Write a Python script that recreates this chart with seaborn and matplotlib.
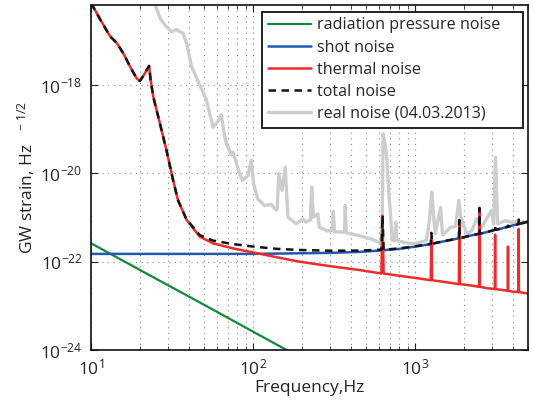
import numpy as np
import matplotlib
matplotlib.use("Agg")
import matplotlib.pyplot as plt
from matplotlib.ticker import NullLocator, LogLocator
import seaborn as sns

# thermal noise (with violin-mode spikes)
thermal_freq = [10, 11.4, 13.1, 14.4, 15.8, 17.4, 19.1, 20.0, 21.2, 22.8, 23.3, 24.2, 26.3,
                29.2, 32.1, 34.4, 38.8, 46.8, 56.6, 75, 100, 140, 193, 300, 450, 600,
                620, 630, 640, 800, 1000, 1250, 1262, 1275, 1500, 1865, 1877, 1890, 2200,
                2488, 2500, 2512, 2800, 3110, 3123, 3136, 3400, 3738, 3750, 3762, 4000,
                4358, 4370, 4382, 5000]
thermal_h = [7.1e-17, 3.0e-17, 1.26e-17, 8.9e-18, 5.2e-18, 2.6e-18, 1.41e-18, 1.23e-18, 1.7e-18,
             2.7e-18, 1.29e-18, 5.4e-19, 1.58e-19, 3.3e-20, 6.9e-21, 2.45e-21, 8.9e-22, 3.7e-22,
             2.6e-22, 2.0e-22, 1.62e-22, 1.26e-22, 1.0e-22, 7.9e-23, 6.5e-23, 5.5e-23,
             5.4e-23, 1.1e-21, 5.4e-23, 4.8e-23, 4.3e-23, 3.8e-23, 3.7e-22, 3.8e-23, 3.5e-23,
             3.1e-23, 8.1e-22, 3.1e-23, 2.9e-23, 2.7e-23, 1.6e-21, 2.7e-23, 2.5e-23,
             2.4e-23, 4.1e-22, 2.4e-23, 2.3e-23, 2.2e-23, 2.2e-22, 2.2e-23, 2.1e-23,
             2.05e-23, 5.5e-22, 2.05e-23, 1.9e-23]
# total noise on the same frequencies
total_h = [7.1e-17, 3.0e-17, 1.26e-17, 8.9e-18, 5.2e-18, 2.6e-18, 1.41e-18, 1.23e-18, 1.7e-18,
           2.7e-18, 1.29e-18, 5.4e-19, 1.58e-19, 3.3e-20, 6.9e-21, 2.45e-21, 9.1e-22, 4.0e-22,
           3.0e-22, 2.5e-22, 2.2e-22, 1.95e-22, 1.84e-22, 1.77e-22, 1.78e-22, 1.86e-22,
           1.86e-22, 1.1e-21, 1.86e-22, 2.0e-22, 2.23e-22, 2.53e-22, 4.5e-22, 2.55e-22, 2.9e-22,
           3.4e-22, 8.8e-22, 3.4e-22, 3.9e-22, 4.28e-22, 1.65e-21, 4.28e-22, 4.7e-22,
           5.25e-22, 6.6e-22, 5.25e-22, 5.6e-22, 6.17e-22, 6.55e-22, 6.17e-22, 6.6e-22,
           7.1e-22, 9.0e-22, 7.1e-22, 8.1e-22]

shot_freq = [10, 100, 200, 300, 450, 600, 800, 1000, 1250, 1500, 1900, 2200, 2500,
             2800, 3100, 3400, 3750, 4000, 4400, 5000]
shot_h = [1.5e-22, 1.5e-22, 1.55e-22, 1.58e-22, 1.66e-22, 1.78e-22, 1.95e-22, 2.19e-22,
          2.5e-22, 2.88e-22, 3.41e-22, 3.9e-22, 4.27e-22, 4.7e-22, 5.25e-22, 5.6e-22,
          6.17e-22, 6.6e-22, 7.1e-22, 8.1e-22]

rad_freq = [10, 20, 50, 100, 200, 500]
rad_h = [2.6e-22, 6.5e-23, 1.05e-23, 2.6e-24, 6.5e-25, 1.05e-25]

# measured noise 04.03.2013
real_freq = [24.0, 24.8, 26.6, 28.5, 31.4, 33.7, 37.0, 38.8, 41.7, 46.9, 51.5, 56.6, 60.7,
             63.7, 66.8, 68.4, 73.5, 75.2, 78.9, 82.6, 85.9, 92.9, 97.5, 100.7, 107, 118,
             129, 139, 141, 144, 151, 158, 164, 185, 203, 212, 226, 230, 236, 251, 256,
             288, 309, 313, 318, 340, 367, 371, 376, 452, 546, 615, 627, 635, 653, 668,
             692, 708, 724, 752, 760, 769, 918, 1009, 1175, 1230, 1268, 1294, 1334, 1439,
             1479, 1660, 1778, 1866, 1914, 2089, 2239, 2399, 2570, 2979, 3055, 3141, 3236,
             3614, 3972, 4365, 4797, 5248]
real_h = [7.9e-17, 6.6e-17, 3.3e-17, 2.3e-17, 1.6e-17, 1.8e-17, 1.45e-17, 8.9e-18, 2.6e-18,
          1.0e-18, 4.6e-19, 1.1e-19, 1.5e-19, 2.1e-19, 6.8e-20, 4.7e-20, 2.6e-20, 3.0e-20,
          1.7e-20, 9.8e-21, 6.9e-21, 8.9e-21, 2.0e-20, 5.9e-21, 2.6e-21, 1.86e-21, 2.0e-21,
          1.45e-21, 1.6e-21, 9.8e-21, 4.1e-21, 1.38e-20, 1.02e-21, 7.2e-22, 9.3e-22, 7.8e-22,
          8.9e-22, 4.9e-21, 1.02e-21, 1.2e-21, 6.0e-22, 5.0e-22, 5.0e-22, 1.38e-21, 4.8e-22,
          4.7e-22, 4.7e-22, 1.86e-21, 4.5e-22, 3.9e-22, 3.2e-22, 2.6e-22, 7.9e-22, 7.9e-20,
          4.5e-20, 2.5e-20, 2.9e-21, 1.02e-21, 3.0e-22, 3.0e-22, 7.8e-22, 3.0e-22, 2.6e-22,
          2.6e-22, 3.0e-22, 8.9e-22, 3.8e-21, 1.45e-21, 4.3e-22, 1.7e-21, 4.0e-22, 6.0e-22,
          6.3e-22, 2.45e-21, 1.02e-21, 4.3e-22, 5.0e-22, 9.3e-22, 6.0e-22, 1.45e-21, 7.1e-22,
          2.3e-20, 7.2e-22, 8.5e-22, 7.8e-22, 8.3e-22, 7.8e-22, 8.3e-22]

sns.set_style("ticks")
plt.rcParams['font.family'] = ['Open Sans', 'DejaVu Sans']
plt.rcParams['mathtext.default'] = 'regular'

fig = plt.figure(figsize=(5.33, 4.07), dpi=100)
ax = fig.add_axes([0.171, 0.140, 0.820, 0.848])
ax.set_xscale('log')
ax.set_yscale('log')

sns.lineplot(x=real_freq, y=real_h, ax=ax, color='#cdcdcd', lw=2.4, sort=False)
l_real = ax.lines[-1]
sns.lineplot(x=rad_freq, y=rad_h, ax=ax, color='#13873a', lw=1.6)
l_rad = ax.lines[-1]
sns.lineplot(x=shot_freq, y=shot_h, ax=ax, color='#2059b0', lw=1.8)
l_shot = ax.lines[-1]
sns.lineplot(x=thermal_freq, y=thermal_h, ax=ax, color='#ee2b2b', lw=1.8, sort=False)
l_th = ax.lines[-1]
sns.lineplot(x=thermal_freq, y=total_h, ax=ax, color='#141414', lw=1.8, sort=False)
l_tot = ax.lines[-1]
l_tot.set_dashes((3.0, 2.2))

ax.set_xlim(10, 5000)
ax.set_ylim(1e-24, 6.5e-17)
ax.set_yticks([1e-24, 1e-22, 1e-20, 1e-18])
ax.yaxis.set_minor_locator(NullLocator())
ax.xaxis.set_major_locator(LogLocator(base=10))
ax.xaxis.set_minor_locator(LogLocator(base=10, subs=np.arange(2, 10)))

ax.grid(True, which='major', axis='both', color='#8a8a8a', lw=0.8, ls=(0, (1, 4)))
ax.grid(True, which='minor', axis='x', color='#8a8a8a', lw=0.8, ls=(0, (1, 4)))
ax.tick_params(which='both', direction='in', top=True, right=True, labelsize=12.5,
               colors='#222222', pad=6)
ax.tick_params(which='major', length=5)
ax.tick_params(which='minor', length=3)
for s in ax.spines.values():
    s.set_linewidth(1.2)
    s.set_color('#111111')

ax.set_xlabel('Frequency,Hz', fontsize=12.5, color='#222222', labelpad=1)
ax.set_ylabel('GW strain, Hz$^{\\ \\ \\ -1/2}$', fontsize=12.5, color='#222222', labelpad=2)

leg = ax.legend([l_rad, l_shot, l_th, l_tot, l_real],
                ['radiation pressure noise', 'shot noise', 'thermal noise', 'total noise',
                 'real noise (04.03.2013)'],
                loc='upper left', bbox_to_anchor=(0.391, 0.623, 0.598, 0.357), mode='expand',
                fontsize=11.6, frameon=True, fancybox=False, framealpha=1,
                edgecolor='#111111', handlelength=2.7, handletextpad=0.35, labelspacing=0.38,
                borderpad=0.35, borderaxespad=0.0)
leg.get_frame().set_linewidth(1.3)

fig.savefig('out.png', dpi=100)
